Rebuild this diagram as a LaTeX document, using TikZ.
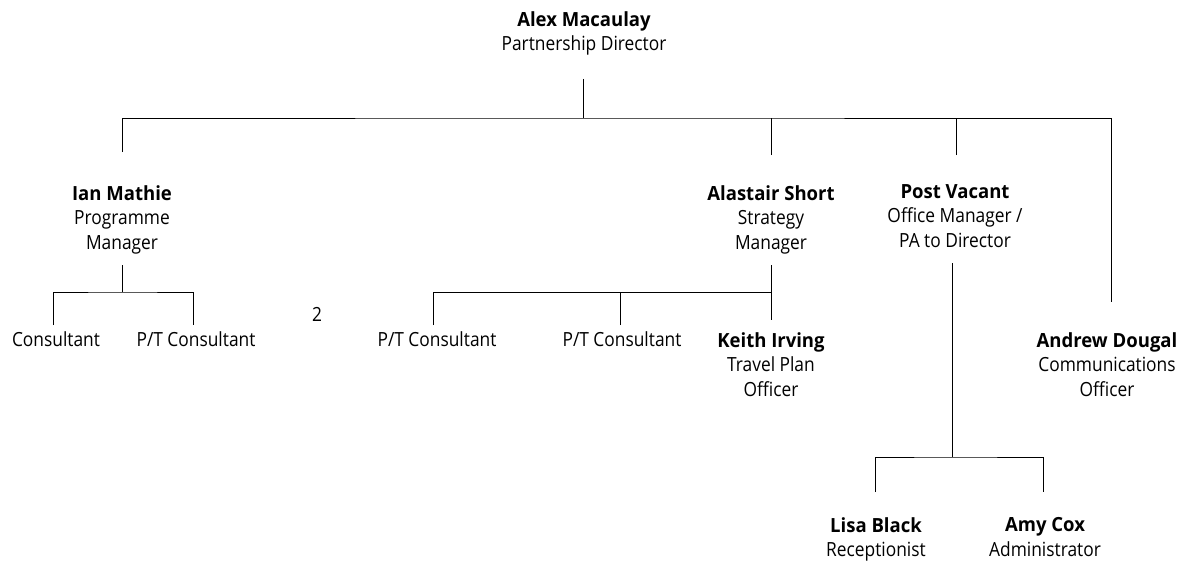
\documentclass[tikz,border=0pt]{standalone}
\usepackage{fontspec}
\setmainfont{Open Sans}[FakeStretch=0.89,BoldFeatures={FakeStretch=0.95}]
\usepackage{tikz}

\tikzset{post/.style={align=center, anchor=north, inner sep=0pt, font=\fontsize{19.5}{24.5}\selectfont}}

\begin{document}
\begin{tikzpicture}[x=1pt,y=-1pt,line width=0.8pt]
 \useasboundingbox (0,0) rectangle (1193,567);
 % people
 \node[post] (alex) at (584,11) {\textbf{Alex Macaulay}\\Partnership Director};
 \node[post] (ian) at (122,185) {\textbf{Ian Mathie}\\Programme\\Manager};
 \node[post] (alastair) at (771,185) {\textbf{Alastair Short}\\Strategy\\Manager};
 \node[post] (post) at (955,184) {\textbf{Post Vacant}\\Office Manager /\\PA to Director};
 \node[post] (andrew) at (1107,332) {\textbf{Andrew Dougal}\\Communications\\Officer};
 \node[post] (cons) at (56,331) {Consultant};
 \node[post] (ptcons) at (196,331) {P/T Consultant};
 \node[post] (two) at (317,307) {2};
 \node[post] (ptconsA) at (437,331) {P/T Consultant};
 \node[post] (ptconsB) at (622,331) {P/T Consultant};
 \node[post] (keith) at (771,332) {\textbf{Keith Irving}\\Travel Plan\\Officer};
 \node[post] (lisa) at (876,517) {\textbf{Lisa Black}\\Receptionist};
 \node[post] (amy) at (1045,517) {\textbf{Amy Cox}\\Administrator};
 % line ends
 \coordinate (alexdn) at (583,79);
 \coordinate (topbar) at (583,118);
 \coordinate (ianup) at (122,152);
 \coordinate (alastairup) at (771,155);
 \coordinate (postup) at (956,155);
 \coordinate (andrewup) at (1111,302);
 \coordinate (iandn) at (122,265);
 \coordinate (ianbar) at (122,292);
 \coordinate (consup) at (53,325);
 \coordinate (ptconsup) at (193,325);
 \coordinate (alastairdn) at (771,265);
 \coordinate (alastairbar) at (771,292);
 \coordinate (keithup) at (771,320);
 \coordinate (ptconsAup) at (433,325);
 \coordinate (ptconsBup) at (620,325);
 \coordinate (postdn) at (952,263);
 \coordinate (postbar) at (952,457);
 \coordinate (lisaup) at (875,492);
 \coordinate (amyup) at (1043,492);
 % lines
 \draw (alexdn) -- (topbar);
 \draw (ianup) |- (topbar) -| (andrewup);
 \draw (alastairup) -- (alastairup |- topbar);
 \draw (postup) -- (postup |- topbar);
 \draw (iandn) -- (ianbar);
 \draw (consup) |- (ianbar) -| (ptconsup);
 \draw (alastairdn) -- (keithup);
 \draw (ptconsAup) |- (alastairbar);
 \draw (ptconsBup) -- (ptconsBup |- alastairbar);
 \draw (postdn) -- (postbar);
 \draw (lisaup) |- (postbar) -| (amyup);
\end{tikzpicture}
\end{document}
